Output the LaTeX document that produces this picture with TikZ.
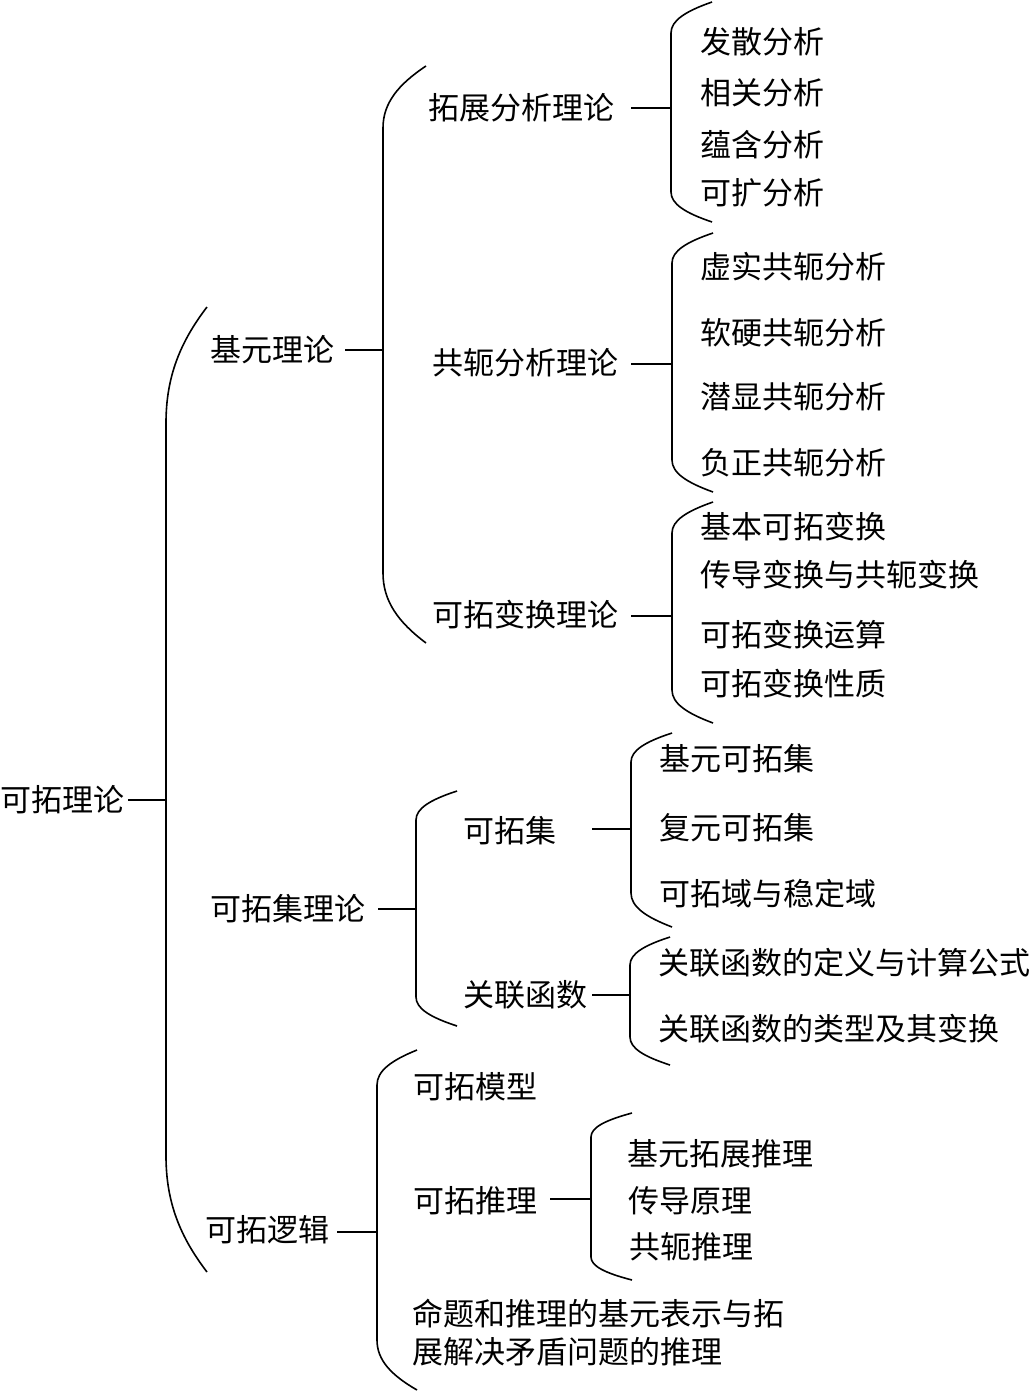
\documentclass[tikz,border=0pt]{standalone}
\usepackage{fontspec}
\newfontfamily\cjk{Noto Sans CJK SC}
\newcommand\brkshape[6]{% x, ytop, ybot, htop, hbot, w
  \draw[brk] (#1+#6,#2) .. controls (#1+0.35*#6,#2+0.3*#4) and (#1,#2+0.6*#4) .. (#1,#2+#4)
    -- (#1,#3-#5) .. controls (#1,#3-0.6*#5) and (#1+0.35*#6,#3-0.3*#5) .. (#1+#6,#3);}
\begin{document}
\begin{tikzpicture}[x=1pt,y=-1pt,
  lbl/.style={anchor=west,inner sep=0pt,text height=0.88em,text depth=0.12em,yshift=-7.5pt,
    font=\cjk\fontsize{31}{38}\selectfont},
  brk/.style={line width=1.6pt},
  conn/.style={line width=1.6pt}]
\useasboundingbox (0,0) rectangle (1031,1392);
% texts
\node[lbl] (root) at (0,800) {可拓理论};
\node[lbl] (jy) at (210,350) {基元理论};
\node[lbl] (kjl) at (210,909) {可拓集理论};
\node[lbl] (ljl) at (205,1230) {可拓逻辑};
\node[lbl] (tz) at (428,108) {拓展分析理论};
\node[lbl] (ge) at (432,363) {共轭分析理论};
\node[lbl] (bh) at (432,615) {可拓变换理论};
\node[lbl] (a1) at (700,42) {发散分析};
\node[lbl] (a2) at (700,93) {相关分析};
\node[lbl] (a3) at (700,145) {蕴含分析};
\node[lbl] (a4) at (700,193) {可扩分析};
\node[lbl] (b1) at (700,267) {虚实共轭分析};
\node[lbl] (b2) at (700,333) {软硬共轭分析};
\node[lbl] (b3) at (700,397) {潜显共轭分析};
\node[lbl] (b4) at (700,463) {负正共轭分析};
\node[lbl] (c1) at (700,527) {基本可拓变换};
\node[lbl] (c2) at (700,575) {传导变换与共轭变换};
\node[lbl] (c3) at (700,635) {可拓变换运算};
\node[lbl] (c4) at (700,684) {可拓变换性质};
\node[lbl] (kj) at (463,831) {可拓集};
\node[lbl] (gl) at (463,995) {关联函数};
\node[lbl] (d1) at (659,759) {基元可拓集};
\node[lbl] (d2) at (659,828) {复元可拓集};
\node[lbl] (d3) at (659,894) {可拓域与稳定域};
\node[lbl] (e1) at (658,963) {关联函数的定义与计算公式};
\node[lbl] (e2) at (658,1029) {关联函数的类型及其变换};
\node[lbl] (mx) at (413,1087) {可拓模型};
\node[lbl] (tl) at (413,1201) {可拓推理};
\node[lbl] (f1) at (627,1154) {基元拓展推理};
\node[lbl] (f2) at (628,1201) {传导原理};
\node[lbl] (f3) at (629,1247) {共轭推理};
\node[lbl] (mt1) at (412,1314) {命题和推理的基元表示与拓};
\node[lbl] (mt2) at (412,1352) {展解决矛盾问题的推理};
% brackets
\brkshape{166}{307}{1272}{116}{116}{41}
\brkshape{383}{66}{643}{62}{70}{43}
\brkshape{671}{2}{222}{31}{30}{41}
\brkshape{672}{233}{492}{30}{32}{41}
\brkshape{672}{502}{723}{31}{33}{41}
\brkshape{416}{791}{1026}{29}{29}{41}
\brkshape{631}{733}{927}{29}{34}{41}
\brkshape{630}{937}{1065}{28}{28}{40}
\brkshape{377}{1050}{1390}{35}{50}{40}
\brkshape{591}{1113}{1280}{24}{23}{41}
% connector endpoints
\coordinate (rootS) at (128,800);   \coordinate (rootB) at (166,800);
\coordinate (jyS) at (345,350);     \coordinate (jyB) at (383,350);
\coordinate (kjlS) at (378,909);    \coordinate (kjlB) at (416,909);
\coordinate (ljlS) at (337,1232);   \coordinate (ljlB) at (377,1232);
\coordinate (tzS) at (631,108);     \coordinate (tzB) at (671,108);
\coordinate (geS) at (631,364);     \coordinate (geB) at (672,364);
\coordinate (bhS) at (631,616);     \coordinate (bhB) at (672,616);
\coordinate (kjS) at (592,829);     \coordinate (kjB) at (631,829);
\coordinate (glS) at (592,995);     \coordinate (glB) at (630,995);
\coordinate (tlS) at (550,1199);    \coordinate (tlB) at (591,1199);
\draw[conn] (rootS) -- (rootB);
\draw[conn] (jyS) -- (jyB);
\draw[conn] (kjlS) -- (kjlB);
\draw[conn] (ljlS) -- (ljlB);
\draw[conn] (tzS) -- (tzB);
\draw[conn] (geS) -- (geB);
\draw[conn] (bhS) -- (bhB);
\draw[conn] (kjS) -- (kjB);
\draw[conn] (glS) -- (glB);
\draw[conn] (tlS) -- (tlB);
\end{tikzpicture}
\end{document}
